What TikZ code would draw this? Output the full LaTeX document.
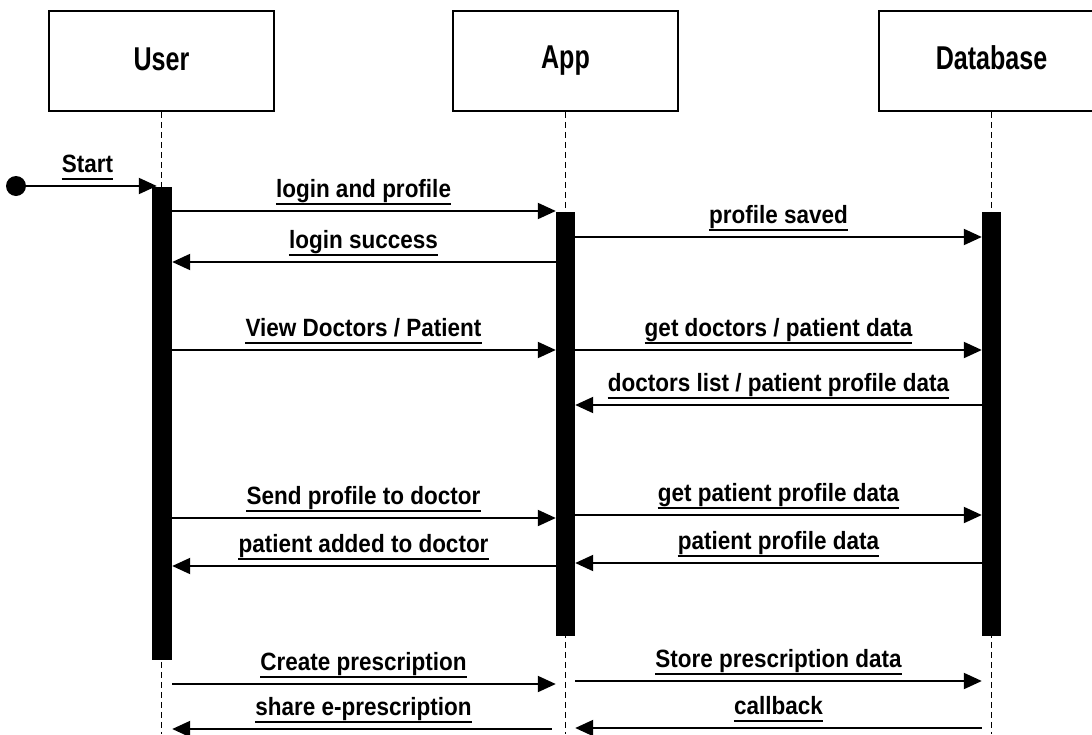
\documentclass[tikz,border=0pt]{standalone}
\usepackage{fontspec}
\setmainfont{Liberation Sans}
\newfontfamily\headfont[FakeStretch=0.76]{Liberation Sans Bold}
\newfontfamily\msgfont[FakeStretch=0.9]{Liberation Sans Bold}
\usetikzlibrary{arrows.meta}
\newcommand\msglabel[4]{%
  \node[lbl] (#1) at (#2,#3) {#4};
  \draw[uline] ([yshift=-6.5pt]#1.base west) -- ([yshift=-6.5pt]#1.base east);}
\begin{document}
\begin{tikzpicture}[x=1pt,y=-1pt,
  actor/.style={draw, line width=1.6pt, minimum width=225pt, minimum height=100pt, inner sep=0},
  headtxt/.style={font=\headfont\fontsize{33}{33}\selectfont, anchor=base, inner sep=0},
  life/.style={line width=1.8pt, dash pattern=on 6pt off 4pt},
  bar/.style={fill=black, draw=none, minimum width=20pt, inner sep=0},
  msg/.style={line width=2pt, -{Triangle[length=18pt,width=16pt]}},
  lbl/.style={font=\msgfont\fontsize{25}{25}\selectfont, anchor=base, inner sep=0},
  uline/.style={line width=2pt},
]
\fill[white] (0,0) rectangle (1092,734);
\useasboundingbox (0,0) rectangle (1092,734);
\clip (0,0) rectangle (1092,734);

% actor boxes
\node[actor] (user) at (161.5,61) {};
\node[actor] (app) at (565.5,61) {};
\node[actor] (db) at (991.5,61) {};
\node[headtxt] (usert) at (161.5,70) {User};
\node[headtxt] (appt) at (565.5,68.5) {App};
\node[headtxt] (dbt) at (991.5,69.5) {Database};

% lifelines
\coordinate (uend) at (161.5,734);
\coordinate (aend) at (565.5,734);
\coordinate (dend) at (991.5,734);
\draw[life] (user.south) -- (uend);
\draw[life] (app.south) -- (aend);
\draw[life] (db.south) -- (dend);

% activation bars
\node[bar, minimum height=473pt] (ubar) at (162,423.5) {};
\node[bar, minimum height=424pt, minimum width=19pt] (abar) at (565.5,424) {};
\node[bar, minimum height=424pt, minimum width=19pt] (dbar) at (991.5,424) {};

% start
\node[circle, fill=black, minimum size=20pt, inner sep=0] (start) at (16,186) {};
\draw[msg] (start.center) -- ([xshift=5pt]start -| ubar.west);
\msglabel{lstart}{87.5}{172}{Start}

% User <-> App
\draw[msg] (ubar.east |- 0,211) -- (abar.west |- 0,211);
\msglabel{l1}{363.5}{197}{login and profile}
\draw[msg] (abar.west |- 0,262) -- (ubar.east |- 0,262);
\msglabel{l2}{363.5}{248}{login success}
\draw[msg] (ubar.east |- 0,350) -- (abar.west |- 0,350);
\msglabel{l3}{363.5}{336}{View Doctors / Patient}
\draw[msg] (ubar.east |- 0,518) -- (abar.west |- 0,518);
\msglabel{l4}{363.5}{504}{Send profile to doctor}
\draw[msg] (abar.west |- 0,566) -- (ubar.east |- 0,566);
\msglabel{l5}{363.5}{552}{patient added to doctor}
\draw[msg] (ubar.east |- 0,684) -- (abar.west |- 0,684);
\msglabel{l6}{363.5}{670}{Create prescription}
\draw[msg] ([xshift=-4pt]abar.west |- 0,729) -- (ubar.east |- 0,729);
\msglabel{l7}{363.5}{715}{share e-prescription}

% App <-> Database
\draw[msg] (abar.east |- 0,237) -- (dbar.west |- 0,237);
\msglabel{r1}{778.5}{223}{profile saved}
\draw[msg] (abar.east |- 0,350) -- (dbar.west |- 0,350);
\msglabel{r2}{778.5}{336}{get doctors / patient data}
\draw[msg] (dbar.west |- 0,405) -- (abar.east |- 0,405);
\msglabel{r3}{778.5}{391}{doctors list / patient profile data}
\draw[msg] (abar.east |- 0,515) -- (dbar.west |- 0,515);
\msglabel{r4}{778.5}{501}{get patient profile data}
\draw[msg] (dbar.west |- 0,563) -- (abar.east |- 0,563);
\msglabel{r5}{778.5}{549}{patient profile data}
\draw[msg] (abar.east |- 0,681) -- (dbar.west |- 0,681);
\msglabel{r6}{778.5}{667}{Store prescription data}
\draw[msg] (dbar.west |- 0,728) -- (abar.east |- 0,728);
\msglabel{r7}{778.5}{714}{callback}
\end{tikzpicture}
\end{document}
